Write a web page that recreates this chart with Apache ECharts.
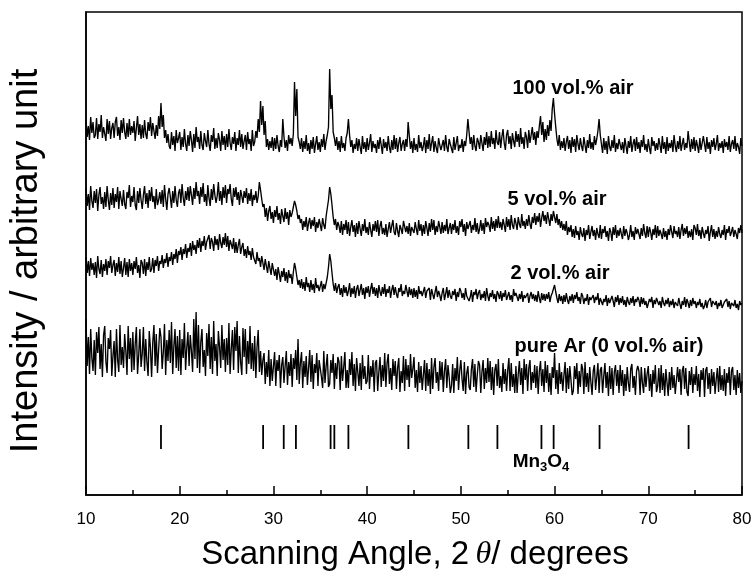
<!DOCTYPE html>
<html>
<head>
<meta charset="utf-8">
<script src="https://cdn.jsdelivr.net/npm/echarts@6/dist/echarts.min.js"></script>
<style>html,body{margin:0;padding:0;background:#fff}#c{width:756px;height:577px}</style>
</head>
<body>
<div id="c"></div>
<script>
// Scan grid (2θ, degrees)
const scanStart = 10;
const scanStep = 0.125;
const xTicks = [10, 20, 30, 40, 50, 60, 70, 80];

// Intensities (arbitrary units, already offset for stacking), one value per scan step (8 per degree)
const air100 = [
367,350,361,347,370,354,365,349, 352,369,348,363,355,372,349,360, 362,346,368,353,366,348,359,364,
349,365,370,351,360,347,367,354, 369,355,348,364,350,368,352,361, 354,366,346,359,371,352,363,348,
362,349,367,353,348,365,356,370, 351,364,356,348,362,351,371,358, 384,360,372,349,357,344,353,341,
338,355,342,351,336,357,344,349, 355,337,350,340,358,343,336,352, 341,356,347,335,353,339,360,345,
350,338,356,342,337,354,346,340, 357,343,336,352,345,359,338,349, 339,354,347,336,356,342,351,337,
353,340,358,344,337,350,343,355, 336,349,342,357,340,353,338,346, 352,337,355,343,348,336,357,341,
345,356,349,368,355,386,362,381, 352,366,340,348,337,346,339,350, 336,349,338,352,341,335,347,340,
368,350,339,347,336,352,343,349, 341,353,405,371,398,350,345,338, 349,335,346,338,352,336,344,333,
347,338,350,334,343,351,337,345, 335,348,340,353,337,346,352,360, 418,378,392,355,349,341,350,337,
346,335,351,339,344,336,349,354, 368,352,340,347,334,343,338,349, 336,348,340,333,351,338,345,335,
349,337,344,353,335,346,339,343, 334,347,338,350,342,333,348,339, 345,336,351,340,334,347,337,352,
338,349,335,344,350,336,343,347, 336,348,340,365,351,338,346,334, 349,337,343,335,352,339,345,336,
341,350,334,347,338,353,336,344, 351,335,346,339,334,349,342,337, 338,347,336,352,340,335,348,343,
345,334,350,337,344,351,336,342, 339,348,335,346,341,352,368,355, 343,350,337,352,341,336,349,345,
338,352,344,336,350,342,355,339, 351,340,356,343,349,338,357,345, 342,355,339,350,358,344,337,352,
357,343,351,338,354,346,340,356, 345,353,340,359,343,350,338,355, 350,339,357,344,352,360,347,355,
342,356,349,361,371,352,365,345, 358,347,362,351,367,356,378,389, 373,360,348,341,352,337,346,339,
349,336,345,351,338,347,334,350, 340,348,335,352,343,337,349,341, 336,350,342,334,347,339,353,338,
345,337,351,342,348,356,368,352, 343,334,349,337,346,333,351,340, 336,347,339,352,335,344,338,348,
350,337,345,334,349,341,333,346, 339,351,335,343,348,336,350,338, 345,334,347,340,352,337,343,335,
348,339,333,350,341,346,336,344, 337,349,342,334,351,338,345,333, 350,336,344,339,347,335,352,341,
335,346,338,351,336,343,349,337, 344,339,356,345,335,348,338,350, 336,347,341,334,349,337,344,351,
343,335,350,338,345,333,347,340, 349,337,343,352,336,344,339,346, 334,348,340,345,337,351,335,343,
347,338,351,336,344,340,333,349,
341];

const air5 = [
299,281,293,277,301,286,279,296, 284,298,276,292,300,283,290,278, 295,280,301,287,277,294,282,299,
279,293,285,300,278,296,288,281, 297,283,278,295,289,302,280,291, 285,300,282,277,296,284,299,287,
278,292,301,283,294,279,297,286, 300,285,291,278,298,282,287,295, 283,297,280,302,288,277,293,299,
290,279,296,284,301,287,280,294, 298,284,303,289,281,296,287,300, 286,301,292,282,299,288,305,291,
296,283,300,290,304,285,293,281, 302,289,281,298,287,303,292,284, 291,305,286,296,282,300,289,302,
284,298,293,303,288,281,299,290, 300,287,295,282,297,291,284,296, 289,299,283,294,286,298,281,292,
287,296,284,291,305,297,288,280, 283,270,279,266,276,281,268,275, 264,277,270,281,267,274,263,278,
271,265,279,268,275,262,277,270, 274,280,286,282,276,268,272,264, 268,257,266,260,270,256,264,269,
258,267,261,270,255,265,259,268, 266,256,269,262,258,271,279,287, 300,293,282,270,262,268,257,265,
261,254,266,252,263,257,267,253, 265,251,260,267,255,262,250,264, 253,266,258,251,263,256,268,254,
260,252,265,257,250,263,256,266, 255,267,251,261,266,253,259,252, 263,250,258,265,254,261,267,255,
252,264,256,250,262,258,253,266, 267,255,261,253,264,251,260,257, 254,265,258,252,267,256,263,251,
262,253,266,259,251,264,255,268, 257,267,252,261,255,266,260,253, 265,254,262,256,268,253,259,264,
253,263,257,267,254,261,252,266, 260,268,255,263,251,265,258,256, 266,254,262,257,269,255,264,253,
258,267,256,264,253,269,260,265, 262,255,270,258,266,256,268,259, 271,259,265,257,268,262,255,270,
260,268,257,272,262,258,269,264, 257,270,263,259,273,261,266,258, 268,261,272,263,258,270,264,274,
262,271,265,274,260,269,276,266, 272,263,275,268,261,273,266,276, 270,264,273,262,268,259,266,257,
263,256,266,252,260,255,262,250, 258,249,261,252,256,247,260,253, 250,259,246,257,252,262,248,255,
261,251,257,247,259,253,249,262, 248,258,254,261,250,256,246,259, 255,246,260,252,262,249,257,251,
259,253,248,261,251,258,254,247, 252,262,250,256,247,260,253,258, 257,248,259,251,263,254,249,261,
250,260,255,247,258,252,262,249, 261,251,257,253,248,259,250,256, 247,258,252,262,255,249,261,253,
256,250,260,248,257,263,251,259, 253,261,249,256,250,258,247,262, 259,252,263,251,257,248,260,254,
249,257,253,261,246,255,262,250, 258,248,256,250,260,253,249,257, 252,262,247,258,254,261,251,255,
260,250,257,253,248,259,254,262,
254];

const air2 = [
230,214,226,211,229,217,224,212, 225,209,231,218,213,227,210,223, 216,228,212,226,219,231,214,222,
227,211,224,215,230,213,226,210, 219,229,212,225,210,228,216,224, 212,226,218,230,214,222,209,227,
224,213,228,211,225,217,230,215, 218,229,214,227,221,231,216,226, 223,232,219,228,224,234,220,230,
226,235,222,233,228,238,224,236, 232,240,227,238,233,243,229,239, 235,244,231,246,237,242,233,247,
239,249,235,246,241,251,237,245, 243,252,238,249,245,236,251,242, 248,237,253,244,239,250,242,254,
240,251,236,247,243,238,249,234, 245,234,242,248,233,240,244,231, 238,229,241,232,236,227,239,230,
232,223,235,226,229,220,231,224, 217,228,221,214,226,219,212,224, 222,211,218,207,220,213,205,216,
210,219,206,215,204,217,209,213, 203,215,224,218,210,202,207,199, 208,198,205,196,210,200,204,195,
207,197,203,194,209,199,202,196, 201,206,195,203,198,204,210,220, 233,226,214,203,196,204,194,200,
203,192,199,190,202,194,200,191, 196,204,190,199,193,201,189,198, 202,191,197,203,192,199,188,200,
194,201,190,198,204,193,200,191, 199,189,202,195,191,200,193,203, 190,198,194,201,189,197,202,192,
200,193,189,199,195,203,191,196, 193,202,196,190,200,192,198,189, 199,190,197,188,201,193,196,191,
192,200,189,196,194,199,187,198, 197,188,195,201,190,196,192,186, 194,199,187,193,200,189,197,191,
188,196,192,198,186,195,190,199, 196,189,194,187,199,191,193,186, 190,197,185,195,192,198,188,194,
197,187,193,189,196,186,199,191, 186,194,190,197,188,193,185,196, 193,188,196,186,194,190,197,187,
189,195,187,192,185,198,191,194, 195,186,193,188,196,185,192,189, 187,194,184,191,195,188,193,186,
192,185,196,189,184,194,187,193, 186,193,188,195,185,191,194,198, 202,195,189,184,193,186,191,183,
192,185,194,187,183,191,186,193, 184,192,188,195,186,190,183,194, 191,183,189,186,193,182,190,187,
185,192,184,190,187,194,182,189, 190,182,188,185,192,181,189,184, 183,191,186,180,190,185,192,182,
189,184,191,182,187,180,190,185, 182,189,184,191,181,188,185,190, 187,180,190,183,189,182,186,179,
181,188,185,190,179,187,183,189, 188,182,186,179,190,184,181,187, 183,189,180,186,182,188,179,185,
187,181,189,183,178,186,182,190, 180,188,184,179,187,181,189,183, 186,179,185,182,188,180,184,178,
181,187,179,185,183,189,180,186, 188,182,186,178,184,181,187,179, 179,185,183,188,180,186,178,184,
185,181,187,179,183,177,186,182,
184];

const air0 = [
168,121,150,113,158,129,116,147, 112,155,134,160,118,143,110,152, 161,125,114,149,138,157,111,131,
146,110,158,127,115,162,122,140, 119,153,136,112,161,128,149,115, 155,117,143,160,113,132,158,120,
133,160,116,148,125,111,156,139, 110,145,162,121,153,114,137,159, 150,118,135,163,112,147,126,157,
124,165,113,141,158,119,151,116, 157,112,148,129,164,117,139,155, 121,152,136,115,168,128,175,119,
162,114,145,158,120,137,111,154, 131,163,118,150,113,166,126,143, 111,156,140,119,162,127,148,115,
149,122,164,113,138,157,117,160, 136,166,114,151,125,112,159,130, 158,113,146,123,161,118,144,116,
151,109,140,157,115,136,112,127, 134,103,125,110,137,101,128,106, 108,135,101,127,116,132,99,122,
130,104,121,136,102,125,111,133, 100,129,118,137,107,148,103,124, 135,99,126,110,131,102,119,137,
105,132,98,123,114,134,101,127, 129,110,99,136,104,121,133,100, 103,127,114,133,98,124,108,130,
125,97,131,106,120,135,99,117, 99,128,112,135,101,123,96,129, 129,101,124,97,132,108,121,103,
106,132,98,121,110,127,95,124, 127,96,115,130,100,122,106,134, 100,124,133,103,119,97,128,111,
126,98,119,129,95,116,104,131, 96,128,107,122,100,133,109,118, 130,99,117,95,125,104,121,97,
112,127,96,124,101,118,93,129, 98,120,129,104,115,96,126,107, 125,95,116,128,99,122,110,94,
101,123,94,119,106,130,97,116, 127,108,96,125,93,114,121,100, 97,118,128,100,123,95,112,126,
122,94,115,127,98,119,104,129, 105,126,97,120,92,117,123,101, 128,99,111,95,124,103,118,96,
117,129,96,124,100,113,94,121, 94,113,126,102,119,93,128,107, 123,96,119,127,97,115,104,122,
99,121,93,116,126,101,118,95, 126,104,122,95,114,92,120,109, 134,98,117,93,124,103,115,96,
112,125,94,119,98,121,107,92, 96,121,108,124,93,116,100,123, 118,93,125,100,114,95,120,105,
92,116,122,97,110,124,94,117, 120,94,111,124,99,115,91,121, 98,119,92,115,122,101,117,94,
122,101,117,91,113,96,120,104, 95,118,123,99,111,92,116,121, 116,92,120,104,94,119,100,113,
121,96,113,90,117,103,122,95, 101,119,94,122,97,114,91,118, 117,91,115,97,120,99,112,93,
93,120,105,118,92,116,121,98, 119,95,91,116,102,120,94,113, 102,121,96,113,90,117,107,119,
90,117,120,98,114,93,118,101, 115,93,108,119,95,121,97,112, 96,118,91,114,104,120,92,116,
120,97,112,92,117,99,114,94,
106];

// Mn3O4 reference reflections (2θ)
const mn3o4Peaks = [18.0, 28.9, 31.1, 32.4, 36.1, 36.5, 38.0, 44.4, 50.8, 53.9, 58.6, 59.9, 64.8, 74.3];
const stickLow = 38, stickHigh = 62;

const seriesNames = ['100 vol.% air', '5 vol.% air', '2 vol.% air', 'pure Ar (0 vol.% air)'];

function toPairs(arr) {
  return arr.map((v, i) => [scanStart + i * scanStep, v]);
}

const chart = echarts.init(document.getElementById('c'), null, {renderer: 'canvas'});
const FONT = '"Liberation Sans", Arial, sans-serif';

const lineSeries = [air100, air5, air2, air0].map((arr, k) => ({
  type: 'line',
  name: seriesNames[k],
  data: toPairs(arr),
  showSymbol: false,
  symbol: 'none',
  lineStyle: {color: '#000', width: 1.35},
  silent: true,
  z: 3
}));

chart.setOption({
  animation: false,
  backgroundColor: '#fff',
  grid: {left: 86, right: 14, top: 12, bottom: 82, show: true, borderColor: '#000', borderWidth: 1.5, backgroundColor: 'transparent'},
  xAxis: {
    type: 'value', min: 10, max: 80, interval: 10,
    axisLine: {show: true, onZero: false, lineStyle: {color: '#000', width: 1.5}},
    axisTick: {show: true, inside: true, length: 9, lineStyle: {color: '#000', width: 1.5}},
    minorTick: {show: true, splitNumber: 2, length: 5, lineStyle: {color: '#000', width: 1.5}},
    axisLabel: {color: '#000', fontSize: 17, fontFamily: FONT, margin: 16,
      formatter: v => xTicks.includes(v) ? String(v) : ''},
    splitLine: {show: false}
  },
  yAxis: {
    type: 'value', min: -8, max: 475,
    axisLine: {show: true, onZero: false, lineStyle: {color: '#000', width: 1.5}},
    axisTick: {show: false}, axisLabel: {show: false}, splitLine: {show: false}
  },
  series: [
    ...lineSeries,
    {
      type: 'custom',
      name: 'Mn3O4',
      data: mn3o4Peaks.map(p => [p, stickLow, stickHigh]),
      renderItem: (params, api) => {
        const a = api.coord([api.value(0), api.value(1)]);
        const b = api.coord([api.value(0), api.value(2)]);
        return {type: 'line', shape: {x1: a[0], y1: a[1], x2: b[0], y2: b[1]}, style: {stroke: '#000', lineWidth: 1.8}};
      },
      silent: true
    }
  ],
  graphic: [
    {type: 'text', x: 573, y: 88, style: {text: seriesNames[0], font: 'bold 20px ' + FONT, fill: '#000', align: 'center', verticalAlign: 'middle'}},
    {type: 'text', x: 557, y: 199, style: {text: seriesNames[1], font: 'bold 20px ' + FONT, fill: '#000', align: 'center', verticalAlign: 'middle'}},
    {type: 'text', x: 560, y: 273, style: {text: seriesNames[2], font: 'bold 20px ' + FONT, fill: '#000', align: 'center', verticalAlign: 'middle'}},
    {type: 'text', x: 609, y: 346, style: {text: seriesNames[3], font: 'bold 20px ' + FONT, fill: '#000', align: 'center', verticalAlign: 'middle'}},
    {type: 'text', x: 541, y: 462, style: {
      text: '{a|Mn}{s|3}{a|O}{s|4}', align: 'center', verticalAlign: 'middle', fill: '#000',
      rich: {
        a: {font: 'bold 19px ' + FONT, fill: '#000', verticalAlign: 'middle'},
        s: {font: 'bold 13px ' + FONT, fill: '#000', padding: [10, 0, 0, 0], verticalAlign: 'middle'}
      }}},
    {type: 'text', x: 415, y: 555, style: {
      text: '{a|Scanning Angle, 2}{t|\u2009\u03B8}{a|/ degrees}', align: 'center', verticalAlign: 'middle', fill: '#000',
      rich: {
        a: {font: '33px ' + FONT, fill: '#000'},
        t: {font: 'italic 32px "Liberation Serif", serif', fill: '#000'}
      }}},
    {type: 'text', x: 27, y: 261, rotation: Math.PI / 2, style: {
      text: 'Intensity / arbitrary unit', font: '38px ' + FONT, fill: '#000', align: 'center', verticalAlign: 'middle'}}
  ]
});
</script>
</body>
</html>
